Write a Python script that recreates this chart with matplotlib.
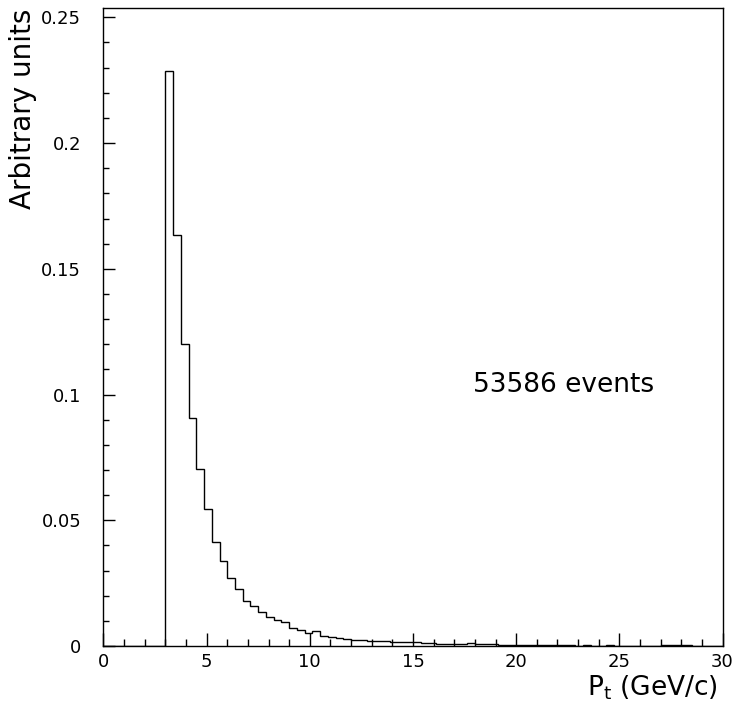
import numpy as np
import matplotlib.pyplot as plt
from matplotlib.ticker import MultipleLocator

#histogram: 80 bins from 0 to 30 GeV/c, empty below 3 GeV/c
x_min = 0.0
x_max = 30.0
n_bins = 80
n_empty = 8
pt_counts = [
    0.2286, 0.1634, 0.1202, 0.0908, 0.0705, 0.0545, 0.0415, 0.0339,
    0.0269, 0.0227, 0.0181, 0.0159, 0.0134, 0.0114, 0.0102, 0.0097,
    0.0071, 0.0064, 0.0053, 0.0058, 0.0041, 0.0037, 0.0030, 0.0029,
    0.0025, 0.0024, 0.0021, 0.0020, 0.0019, 0.0017, 0.0016, 0.0015,
    0.0014, 0.0012, 0.0011, 0.0010, 0.0009, 0.0008, 0.0008, 0.0011,
    0.0008, 0.0007, 0.0007, 0.0006, 0.0004,
    0.0004, 0.0004, 0.0003, 0.0004, 0.0003, 0.0003, 0.0003,
    0.0003, 0.0002, 0.0003, 0.0002, 0.0002, 0.0003, 0.0002, 0.0002,
    0.0002, 0.0001, 0.0, 0.0001,
    0.0004, 0.0004, 0.0003, 0.0004,
    0.0002, 0.0001, 0.0, 0.0,
]
n_events = 53586
xticks = [0, 5, 10, 15, 20, 25, 30]
yticks = [0, 0.05, 0.1, 0.15, 0.2, 0.25]
ytick_labels = ['0', '0.05', '0.1', '0.15', '0.2', '0.25']

values = np.concatenate([np.zeros(n_empty), np.array(pt_counts)])
edges = np.linspace(x_min, x_max, n_bins + 1)

plt.rcParams['font.family'] = ['DejaVu Sans']

fig = plt.figure(figsize=(7.38, 7.17), dpi=100)
ax = fig.add_axes([0.1402, 0.099, 0.8388, 0.8898])

ax.stairs(values, edges, color='black', linewidth=1.0)

ax.set_xlim(x_min, x_max)
ax.set_ylim(0, 0.2537)
ax.set_xticks(xticks)
ax.set_yticks(yticks)
ax.set_yticklabels(ytick_labels)
ax.xaxis.set_minor_locator(MultipleLocator(1))
ax.yaxis.set_minor_locator(MultipleLocator(0.01))

#PAW style: inward ticks on bottom/left only
ax.tick_params(axis='x', which='major', direction='in', length=9.5, width=1.0,
               labelsize=13, pad=5)
ax.tick_params(axis='x', which='minor', direction='in', length=5, width=1.0)
ax.tick_params(axis='y', which='major', direction='in', length=8.6, width=1.0,
               labelsize=13, pad=16)
ax.tick_params(axis='y', which='minor', direction='in', length=4.3, width=1.0)
for s in ax.spines.values():
    s.set_linewidth(1.0)

ax.text(17.9, 0.1038, '%d events' % n_events, fontsize=19, va='center', ha='left')

fig.text(718/738, 1 - 688/717, r'P$_\mathrm{t}$ (GeV/c)', fontsize=19,
         ha='right', va='center')
fig.text(23/738, 1 - 9/717, 'Arbitrary units', fontsize=20, rotation=90,
         ha='center', va='top')

fig.savefig('out.png', dpi=100)
